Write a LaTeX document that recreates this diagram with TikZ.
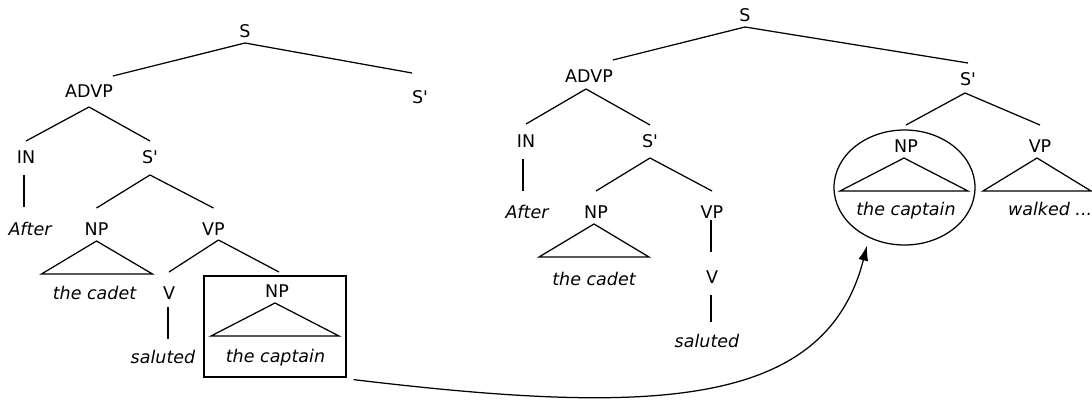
\documentclass[tikz,border=0pt]{standalone}
\usepackage{fontspec}
\setmainfont{DejaVu Sans}
\usetikzlibrary{arrows.meta,shapes.geometric}
\begin{document}
\begin{tikzpicture}[x=1pt,y=-1pt,
  lab/.style={inner sep=0pt, outer sep=0pt, anchor=base, font=\fontsize{17.5}{21}\selectfont},
  word/.style={lab, font=\fontsize{17.5}{21}\selectfont\itshape},
  hd/.style 2 args={text height=#1pt, text depth=#2pt},
  edge/.style={line width=1.25pt},
  frame/.style={draw, line width=1.25pt, inner sep=0pt}
  ]
\useasboundingbox (0,0) rectangle (1092,399);

% ---------------- left tree ----------------
\node[lab, hd={13}{6}]  (LS)    at (245,37)  {S};
\node[lab, hd={21}{10}] (LADVP) at (89,97)   {ADVP};
\node[lab, hd={30}{0}]  (LSa)   at (420,103) {S\textquotesingle};
\node[lab, hd={22}{12}] (LIN)   at (26,163)  {IN};
\node[lab, hd={22}{12}] (LSb)   at (150,163) {S\textquotesingle};
\node[word, hd={28}{0}] (LAfter) at (30,235) {After};
\node[lab, hd={27}{6}]  (LNP)   at (96.5,235) {NP};
\node[lab, hd={27}{5}]  (LVP)   at (213.5,235) {VP};
\node[word, hd={13}{4}] (Lcadet) at (94.5,299) {the cadet};
\node[lab, hd={27}{8}]  (LV)    at (169,299) {V};
\node[word, hd={24}{4}] (Lsaluted) at (163,363) {saluted};
\node[frame, minimum width=142pt, minimum height=101pt] (box) at (275,326.5) {};
\node[lab, hd={25}{6}]  (LbNP)  at (277,297) {NP};
\node[word, hd={13}{4}] (LbCap) at (275.5,362) {the captain};

\draw[edge] (LS.south) -- (LADVP.north east);
\draw[edge] (LS.south) -- (LSa.north west);
\draw[edge] (LADVP.south) -- (LIN.north);
\draw[edge] (LADVP.south) -- (LSb.north);
\draw[edge] ([xshift=-2pt]LIN.south) -- ([xshift=-2pt]LIN.south |- LAfter.north);
\draw[edge] (LSb.south) -- (LNP.north);
\draw[edge] (LSb.south) -- (LVP.north);
\draw[edge] (LNP.south) -- ++(-55,33) -- ++(111,0) -- cycle;
\draw[edge] ([xshift=5pt]LVP.south) -- (LV.north);
\draw[edge] ([xshift=5pt]LVP.south) -- ([xshift=2pt]LbNP.north);
\draw[edge] ([xshift=-1pt]LV.south) -- ([xshift=-1pt]LV.south |- Lsaluted.north);
\draw[edge] ([xshift=-2pt]LbNP.south) -- ++(-64,33) -- ++(128,0) -- cycle;

% ---------------- right tree ----------------
\node[lab, hd={13}{6}]  (RS)    at (745,21)  {S};
\node[lab, hd={22}{7}]  (RADVP) at (589,82)  {ADVP};
\node[lab, hd={22}{8}]  (RSa)   at (968,85)  {S\textquotesingle};
\node[lab, hd={23}{12}] (RIN)   at (526,147) {IN};
\node[lab, hd={22}{11}] (RSb)   at (650,147) {S\textquotesingle};
\node[word, hd={27}{0}] (RAfter) at (527,218) {After};
\node[lab, hd={27}{6}]  (RNP)   at (596,218) {NP};
\node[lab, hd={27}{2}]  (RVP)   at (712,218) {VP};
\node[word, hd={13}{4}] (Rcadet) at (594,285) {the cadet};
\node[lab, hd={31}{12}] (RV)    at (712,283) {V};
\node[word, hd={25}{4}] (Rsaluted) at (707,347) {saluted};
\node[lab, hd={27}{6}]  (RcNP)  at (906,152) {NP};
\node[word, hd={13}{4}] (RcCap) at (906,215) {the captain};
\node[lab, hd={27}{6}]  (RVPb)  at (1040,152) {VP};
\node[word, hd={13}{4}, anchor=base west] (Rwalked) at (1008,215) {walked ...};
\node[ellipse, draw, line width=1.25pt, inner sep=0pt,
      minimum width=141pt, minimum height=115pt] (circ) at (904.5,187.5) {};

\draw[edge] (RS.south) -- (RADVP.north east);
\draw[edge] (RS.south) -- (RSa.north);
\draw[edge] ([xshift=-3pt]RADVP.south) -- (RIN.north);
\draw[edge] ([xshift=-3pt]RADVP.south) -- (RSb.north);
\draw[edge] ([xshift=-3pt]RIN.south) -- ([xshift=-3pt]RIN.south |- RAfter.north);
\draw[edge] (RSb.south) -- (RNP.north);
\draw[edge] (RSb.south) -- (RVP.north);
\draw[edge] ([xshift=-2pt]RNP.south) -- ++(-55,33) -- ++(110,0) -- cycle;
\draw[edge] ([xshift=-1pt]RVP.south) -- ([xshift=-1pt]RVP.south |- RV.north);
\draw[edge] ([xshift=-1pt]RV.south) -- ([xshift=-1pt]RV.south |- Rsaluted.north);
\draw[edge] ([xshift=-3pt]RSa.south) -- (RcNP.north);
\draw[edge] ([xshift=-3pt]RSa.south) -- (RVPb.north);
\draw[edge] ([xshift=-2pt]RcNP.south) -- ++(-64,33) -- ++(128,0) -- cycle;
\draw[edge] ([xshift=-3pt]RVPb.south) -- ++(-54,33) -- ++(108,0) -- cycle;

% ---------------- movement arrow ----------------
\draw[edge, -{Latex[length=15pt,width=10pt]}]
  ([xshift=7pt,yshift=-2pt]box.south east) .. controls (650,415) and (825,410) .. ([xshift=-37.5pt]circ.south);
\end{tikzpicture}
\end{document}
